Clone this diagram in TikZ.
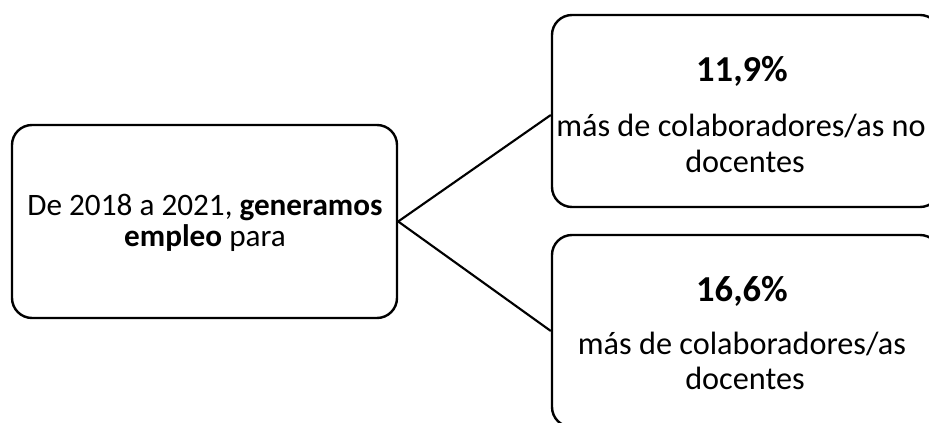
\documentclass[tikz,border=0pt]{standalone}
\usepackage{fontspec}
\setmainfont{Carlito}
\begin{document}
\begin{tikzpicture}[x=0.75pt,y=-0.75pt,
  box/.style={draw=black, line width=1.8pt, rounded corners=15pt, inner sep=0pt},
  conn/.style={draw=black, line width=1.6pt},
  txt/.style={anchor=base, inner sep=0pt, font=\fontsize{23.4pt}{28pt}\selectfont},
  rtxt/.style={anchor=base, inner sep=0pt, font=\fontsize{24.2pt}{29pt}\selectfont},
  pct/.style={anchor=base, inner sep=0pt, font=\fontsize{27.4pt}{32pt}\selectfont\bfseries}]
\useasboundingbox (0,0) rectangle (929,423);
\clip (0,0) rectangle (929,423);
\fill[white] (0,0) rectangle (929,423);
% boxes
\node[box, minimum width=288.75pt, minimum height=144.75pt] (src) at (204.5,221.5) {};
\node[box, minimum width=291pt, minimum height=144pt] (top) at (746,111) {};
\node[box, minimum width=291pt, minimum height=144pt] (bot) at (746,331) {};
% connectors
\draw[conn] (src.east) -- ([yshift=-3pt]top.west);
\draw[conn] (src.east) -- (bot.west);
% left text
\node[txt] (l1) at (205,216) {De 2018 a 2021, \textbf{generamos}};
\node[txt] (l2) at (205,247) {\textbf{empleo} para};
% top right text
\node[pct] (t1) at (742,82) {11,9\%};
\node[rtxt] (t2) at (741,137) {más de colaboradores/as no};
\node[rtxt] (t3) at (745,173) {docentes};
% bottom right text
\node[pct] (b1) at (742,302) {16,6\%};
\node[rtxt] (b2) at (742,355) {más de colaboradores/as};
\node[rtxt] (b3) at (745,390) {docentes};
\end{tikzpicture}
\end{document}
